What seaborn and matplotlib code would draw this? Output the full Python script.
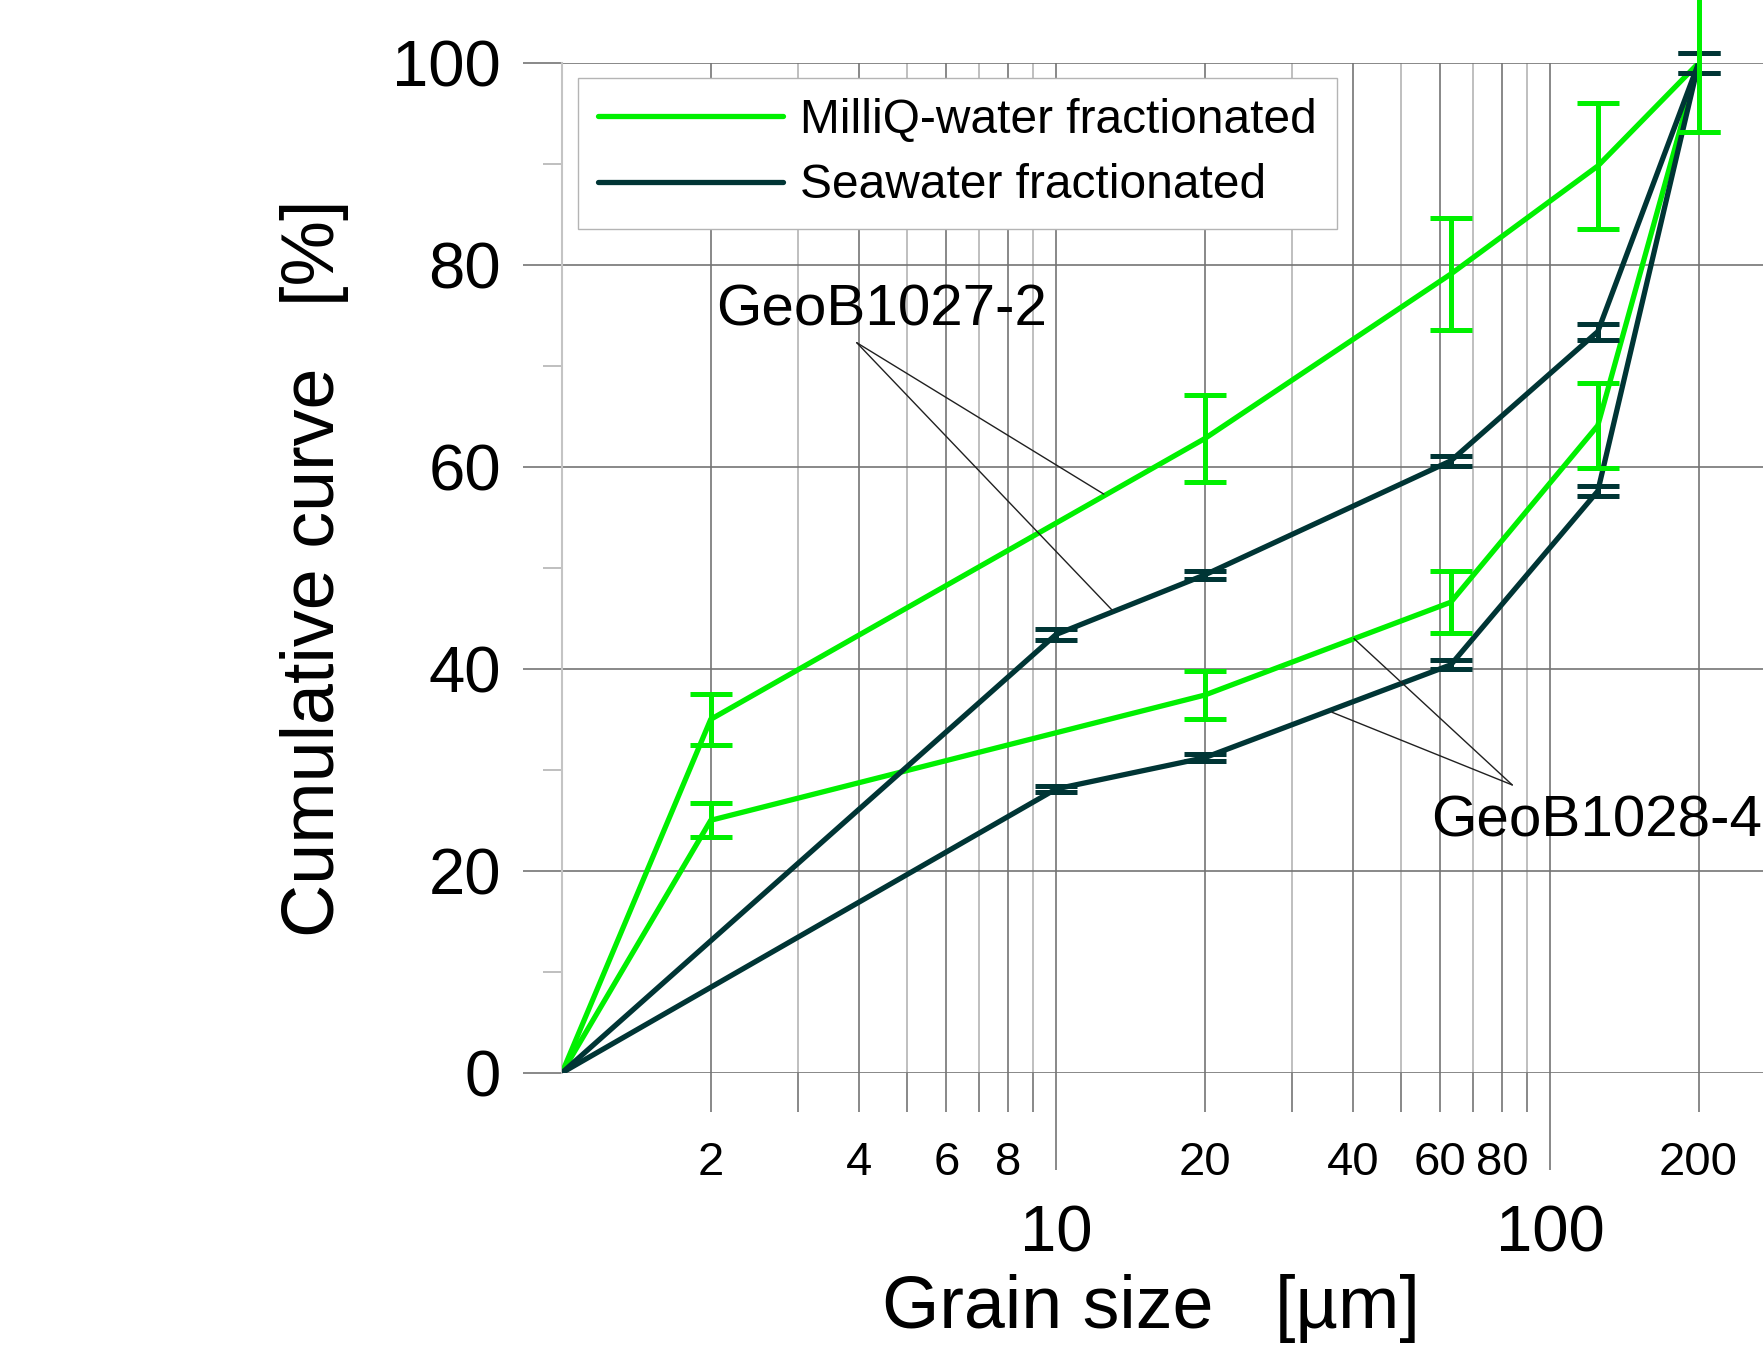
import pandas as pd
import seaborn as sns
import matplotlib.pyplot as plt
from matplotlib.ticker import FixedLocator, FixedFormatter

# grain size classes [µm]
sizes_milliq = [1, 2, 20, 63, 125, 200]
sizes_sea = [1, 10, 20, 63, 125, 200]

# cumulative curve [%] with error
milliq_1027 = [0, 35.0, 62.8, 79.1, 89.8, 100]
milliq_1027_err = [0, 2.5, 4.3, 5.5, 6.2, 6.8]
milliq_1028 = [0, 25.0, 37.4, 46.6, 64.1, 100]
milliq_1028_err = [0, 1.7, 2.4, 3.1, 4.2, 6.8]
sea_1027 = [0, 43.4, 49.3, 60.6, 73.4, 100]
sea_1027_err = [0, 0.5, 0.4, 0.5, 0.8, 1.0]
sea_1028 = [0, 28.1, 31.2, 40.4, 57.6, 100]
sea_1028_err = [0, 0.3, 0.35, 0.45, 0.5, 1.0]

treatments = ['MilliQ-water fractionated', 'Seawater fractionated']
colors = {'MilliQ-water fractionated': '#00f000', 'Seawater fractionated': '#003535'}

y_major = [0, 20, 40, 60, 80, 100]
y_minor = [10, 30, 50, 70, 90]
x_major = [10, 100]
x_minor = [2, 3, 4, 5, 6, 7, 8, 9, 20, 30, 40, 50, 60, 70, 80, 90, 200]
x_minor_labels = ['2', '', '4', '', '6', '', '8', '', '20', '', '40', '', '60', '', '80', '', '200']

# sample labels: text position, pointer apex, pointed-at spots on the curves
label_1027 = 'GeoB1027-2'
text_1027 = (2.05, 75.5)
apex_1027 = (3.95, 72.3)
targets_1027 = [(12.5, 57.3), (13.0, 45.8)]
label_1028 = 'GeoB1028-4'
text_1028 = (57.4, 24.9)
apex_1028 = (83.9, 28.5)
targets_1028 = [(40.1, 43.0), (36.2, 35.7)]

rows = []
for treat, sample, xs, ys, es in [
        (treatments[1], 'GeoB1027-2', sizes_sea, sea_1027, sea_1027_err),
        (treatments[1], 'GeoB1028-4', sizes_sea, sea_1028, sea_1028_err),
        (treatments[0], 'GeoB1027-2', sizes_milliq, milliq_1027, milliq_1027_err),
        (treatments[0], 'GeoB1028-4', sizes_milliq, milliq_1028, milliq_1028_err)]:
    for x, y, e in zip(xs, ys, es):
        rows.append(dict(treatment=treat, sample=sample, size=x, cum=y, err=e))
df = pd.DataFrame(rows)

sns.set_style('white')
plt.rcParams['font.family'] = ['Liberation Sans', 'DejaVu Sans']
plt.rcParams['text.color'] = 'black'
plt.rcParams['axes.labelcolor'] = 'black'
plt.rcParams['xtick.labelcolor'] = 'black'
plt.rcParams['ytick.labelcolor'] = 'black'

fig = plt.figure(figsize=(17.63, 13.49), dpi=100)
ax = fig.add_axes([0.3188, 0.2048, 0.6812, 0.7485])

sns.lineplot(data=df, x='size', y='cum', hue='treatment', units='sample',
             estimator=None, sort=False, hue_order=treatments, palette=colors,
             lw=3.8, ax=ax, zorder=3)

for (treat, sample), g in df.groupby(['treatment', 'sample'], sort=False):
    g = g[g['err'] > 0]
    eb = ax.errorbar(g['size'], g['cum'], yerr=g['err'], fmt='none',
                     ecolor=colors[treat], elinewidth=3.6, capsize=15, capthick=3.6,
                     zorder=3)
    for art in eb.lines[1] + eb.lines[2]:
        art.set_clip_on(False)

ax.set_xscale('log')
ax.set_xlim(1, 270)
ax.set_ylim(0, 100)

ax.xaxis.set_major_locator(FixedLocator(x_major))
ax.xaxis.set_major_formatter(FixedFormatter([str(v) for v in x_major]))
ax.xaxis.set_minor_locator(FixedLocator(x_minor))
ax.xaxis.set_minor_formatter(FixedFormatter(x_minor_labels))
ax.yaxis.set_major_locator(FixedLocator(y_major))
ax.yaxis.set_minor_locator(FixedLocator(y_minor))

grid_dark = '#747474'
grid_light = '#b4b4b4'
ax.tick_params(axis='x', which='major', direction='out', length=70, width=1.2,
               pad=25, labelsize=47, color=grid_dark, bottom=True)
ax.tick_params(axis='x', which='minor', direction='out', length=28, width=1.2,
               pad=21, labelsize=34, color=grid_dark, bottom=True)
ax.tick_params(axis='y', which='major', direction='out', length=28, width=1.2,
               pad=16, labelsize=47, color=grid_dark, left=True)
ax.tick_params(axis='y', which='minor', direction='out', length=14, width=1.2,
               color=grid_light, left=True)

ax.grid(True, which='major', axis='both', color=grid_dark, lw=1.2)
ax.grid(True, which='minor', axis='x', color=grid_dark, lw=1.2)
for tick, lab in zip(ax.xaxis.get_minor_ticks(), x_minor_labels):
    if lab == '':
        tick.gridline.set_color(grid_light)
        tick.tick1line.set_color(grid_light)

for s in ['top', 'right', 'bottom']:
    ax.spines[s].set_visible(False)
ax.spines['left'].set_color('#c4c4c4')
ax.spines['left'].set_linewidth(1.5)

ax.set_xlabel('Grain size   [µm]', fontsize=53)
ax.set_ylabel('Cumulative curve   [%]', fontsize=53)
ax.xaxis.set_label_coords(0.49, -0.199)
ax.yaxis.set_label_coords(-0.1773, 0.5)

for label, pos, apex, targets in [(label_1027, text_1027, apex_1027, targets_1027),
                                  (label_1028, text_1028, apex_1028, targets_1028)]:
    ax.text(pos[0], pos[1], label, fontsize=42, ha='left', va='center', zorder=4)
    for tx, ty in targets:
        ax.annotate('', xy=(tx, ty), xytext=apex,
                    arrowprops=dict(arrowstyle='-', color='#202020', lw=1.0,
                                    shrinkA=0, shrinkB=0), zorder=4)

handles, labels = ax.get_legend_handles_labels()
leg = ax.legend(handles, labels, loc='upper left', bbox_to_anchor=(0.0133, 0.985),
                borderaxespad=0, fontsize=34.5, handlelength=3.85, handletextpad=0.36,
                labelspacing=0.42, borderpad=0.42, fancybox=False, framealpha=1,
                edgecolor='#b4b4b4')
leg.get_frame().set_linewidth(1.0)
leg.set_zorder(5)
for h in leg.get_lines():
    h.set_linewidth(3.8)

fig.savefig('out.png', dpi=100)
